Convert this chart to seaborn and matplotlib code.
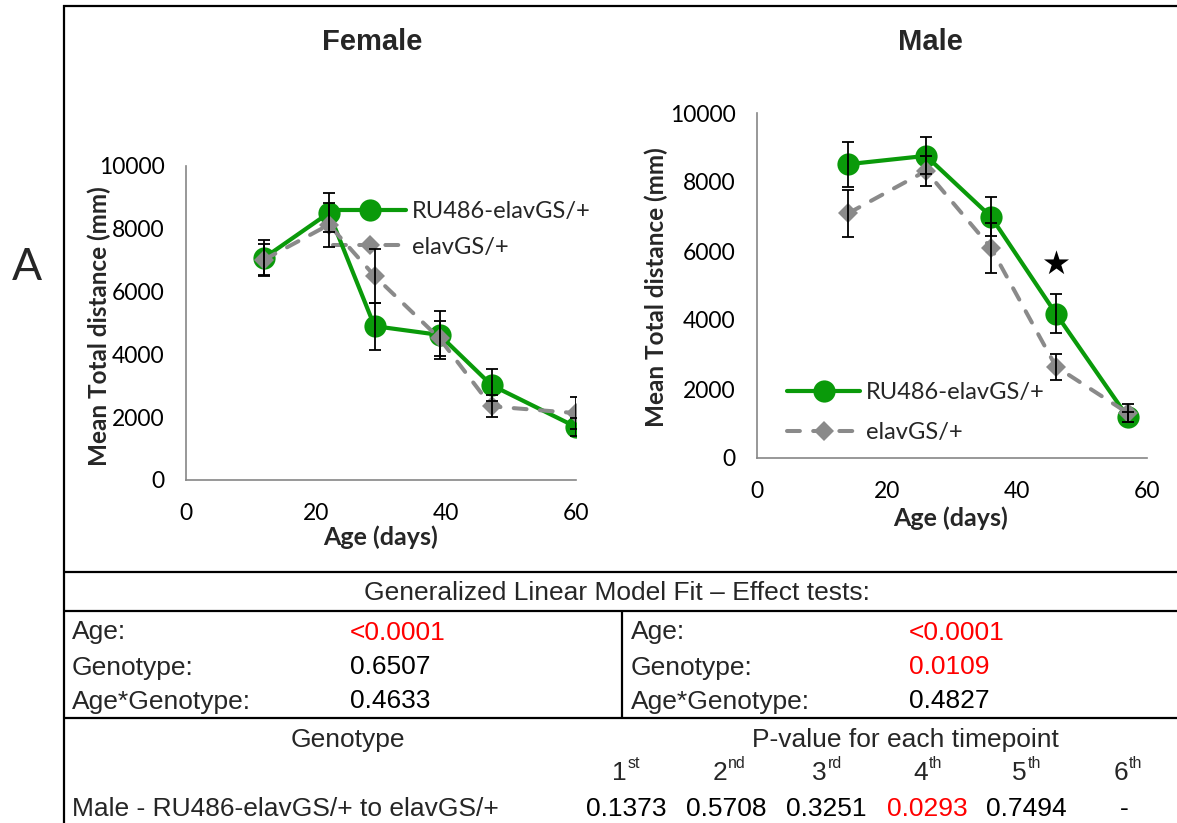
import matplotlib
matplotlib.use("Agg")
import matplotlib.pyplot as plt
import numpy as np
import pandas as pd
import seaborn as sns
from matplotlib.lines import Line2D

# ---------------- data ----------------
female_age = [12, 22, 29, 39, 47, 60]
female_ru486 = [7070, 8510, 4900, 4620, 3020, 1690]
female_ru486_sem = [580, 615, 750, 760, 520, 300]
female_ctrl = [7015, 8130, 6500, 4510, 2345, 2130]
female_ctrl_sem = [500, 700, 850, 560, 350, 500]

male_age = [14, 26, 36, 46, 57]
male_ru486 = [8516, 8758, 6993, 4180, 1193]
male_ru486_sem = [650, 534, 572, 560, 150]
male_ctrl = [7090, 8322, 6091, 2648, 1309]
male_ctrl_sem = [680, 436, 727, 380, 270]

series_labels = ["RU486-elavGS/+", "elavGS/+"]
panel_titles = ["Female", "Male"]
x_ticks = [0, 20, 40, 60]
y_ticks = [0, 2000, 4000, 6000, 8000, 10000]
star_age = [46]
star_value = [5655]

glm_title = "Generalized Linear Model Fit \u2013 Effect tests:"
glm_terms = ["Age:", "Genotype:", "Age*Genotype:"]
glm_female = ["<0.0001", "0.6507", "0.4633"]
glm_female_sig = [True, False, False]
glm_male = ["<0.0001", "0.0109", "0.4827"]
glm_male_sig = [True, True, False]
ordinal_nums = ["1", "2", "3", "4", "5", "6"]
ordinal_sups = ["st", "nd", "rd", "th", "th", "th"]
timepoint_pvalues = ["0.1373", "0.5708", "0.3251", "0.0293", "0.7494", "-"]
timepoint_sig = [False, False, False, True, False, False]
comparison_label = "Male - RU486-elavGS/+ to elavGS/+"

# ---------------- style ----------------
sns.set_style("white")
plt.rcParams["font.family"] = ["Lato", "DejaVu Sans"]

GREEN = "#0A9A0A"
GREY = "#8A8A8A"
AXC = "#868686"
RED = "#FF0000"
CHART_FONT = ["Lato", "DejaVu Sans"]
TABLE_FONT = ["Liberation Sans", "DejaVu Sans"]

W, H = 1177, 823
fig = plt.figure(figsize=(W / 100, H / 100), dpi=100)


def fx(px):
    return px / W


def fy(py):
    return 1 - py / H


ax_f = fig.add_axes([fx(186), fy(480), 390 / W, 314 / H])
ax_m = fig.add_axes([fx(757), fy(458), 390 / W, 345 / H])

DASH = (0, (3.2, 3.3))


def draw_panel(ax, age, ru, ru_err, ctrl, ctrl_err):
    df_ru = pd.DataFrame({"age": age, "dist": ru})
    df_ct = pd.DataFrame({"age": age, "dist": ctrl})
    sns.lineplot(data=df_ru, x="age", y="dist", ax=ax, color=GREEN, linewidth=3.0,
                 marker="o", markersize=16, markeredgecolor=GREEN,
                 markeredgewidth=0, zorder=3)
    sns.lineplot(data=df_ct, x="age", y="dist", ax=ax, color=GREY, linewidth=2.9,
                 linestyle=DASH, dash_capstyle="round", marker="D",
                 markersize=10.5, markeredgecolor=GREY, markeredgewidth=0,
                 zorder=4)
    ax.errorbar(age, ru, yerr=ru_err, fmt="none", ecolor="black", elinewidth=1.3,
                capsize=4.5, capthick=1.3, zorder=6)
    ax.errorbar(age, ctrl, yerr=ctrl_err, fmt="none", ecolor="black",
                elinewidth=1.3, capsize=4.5, capthick=1.3, zorder=6)
    ax.set_xlim(0, 60)
    ax.set_ylim(0, 10000)
    ax.set_xticks(x_ticks)
    ax.set_yticks(y_ticks)
    ax.set_xticklabels([str(t) for t in x_ticks])
    ax.set_yticklabels([str(t) for t in y_ticks])
    for s in ["top", "right"]:
        ax.spines[s].set_visible(False)
    for s in ["left", "bottom"]:
        ax.spines[s].set_color(AXC)
        ax.spines[s].set_linewidth(1.2)
    ax.tick_params(axis="both", which="major", direction="out", length=5.5,
                   width=1.2, color=AXC, labelsize=16.5, labelcolor="black")
    ax.tick_params(axis="x", pad=11)
    ax.tick_params(axis="y", pad=10)
    for lab in ax.get_xticklabels() + ax.get_yticklabels():
        lab.set_family(CHART_FONT)
    ax.set_xlabel("Age (days)", fontsize=18, fontweight="bold", family=CHART_FONT,
                  va="center")
    ax.set_ylabel("Mean Total distance (mm)", fontsize=17.5, fontweight="bold",
                  family=CHART_FONT, va="center")
    ax.patch.set_alpha(0)


def legend_handles():
    h1 = Line2D([], [], color=GREEN, linewidth=3.0, marker="o", markersize=16,
                markeredgewidth=0)
    h2 = Line2D([], [], color=GREY, linewidth=2.9, linestyle=DASH,
                dash_capstyle="round", marker="D", markersize=10.5,
                markeredgewidth=0)
    return [h1, h2]


draw_panel(ax_f, female_age, female_ru486, female_ru486_sem, female_ctrl,
           female_ctrl_sem)
draw_panel(ax_m, male_age, male_ru486, male_ru486_sem, male_ctrl, male_ctrl_sem)

sns.scatterplot(x=star_age, y=star_value, ax=ax_m, marker="*", s=360,
                color="black", edgecolor="black", linewidth=0, zorder=7)

# axis label positions
ax_f.xaxis.set_label_coords(0.50, -0.182)
ax_f.yaxis.set_label_coords(-0.222, 0.49)
ax_m.xaxis.set_label_coords(0.497, -0.174)
ax_m.yaxis.set_label_coords(-0.257, 0.496)

# legends
leg_kw = dict(frameon=False, handlelength=3.1, handletextpad=0.25,
              borderpad=0, borderaxespad=0, numpoints=1,
              prop={"family": CHART_FONT, "size": 17})
lf = ax_f.legend(legend_handles(), series_labels, loc="center left",
                 bbox_to_anchor=(0.377, 0.798), labelspacing=0.62, **leg_kw)
lm = ax_m.legend(legend_handles(), series_labels, loc="center left",
                 bbox_to_anchor=(0.077, 0.132), labelspacing=0.8, **leg_kw)
for lg in (lf, lm):
    lg.set_zorder(2)

# titles
fig.text(fx(372), fy(42), panel_titles[0], ha="center", va="center",
         fontsize=21, fontweight="bold", family=TABLE_FONT)
fig.text(fx(930), fy(42), panel_titles[1], ha="center", va="center",
         fontsize=21, fontweight="bold", family=TABLE_FONT)
fig.text(fx(27), fy(268), "A", ha="center", va="center", fontsize=32,
         fontweight="normal", family=CHART_FONT)

# ---------------- frame and table lines ----------------
def hline(y, x0, x1, lw=1.6):
    fig.add_artist(Line2D([fx(x0), fx(x1)], [fy(y), fy(y)], color="black",
                          linewidth=lw, transform=fig.transFigure,
                          solid_capstyle="butt"))


def vline(x, y0, y1, lw=1.6):
    fig.add_artist(Line2D([fx(x), fx(x)], [fy(y0), fy(y1)], color="black",
                          linewidth=lw, transform=fig.transFigure,
                          solid_capstyle="butt"))


hline(5.5, 63, 1177)
vline(64, 5, 823)
hline(572, 63, 1177)
hline(611, 63, 1177)
hline(718, 63, 1177)
vline(622, 611, 718)

TS = 19
fig.text(fx(617), fy(600), glm_title, ha="center", va="baseline", fontsize=TS,
         family=TABLE_FONT)
row_base = [639.5, 674.5, 708.5]
for i, term in enumerate(glm_terms):
    fig.text(fx(72), fy(row_base[i]), term, ha="left", va="baseline",
             fontsize=TS, family=TABLE_FONT)
    fig.text(fx(350), fy(row_base[i]), glm_female[i], ha="left", va="baseline",
             fontsize=TS, family=TABLE_FONT,
             color=RED if glm_female_sig[i] else "black")
    fig.text(fx(631), fy(row_base[i]), term, ha="left", va="baseline",
             fontsize=TS, family=TABLE_FONT)
    fig.text(fx(909), fy(row_base[i]), glm_male[i], ha="left", va="baseline",
             fontsize=TS, family=TABLE_FONT,
             color=RED if glm_male_sig[i] else "black")

fig.text(fx(348), fy(746.5), "Genotype", ha="center", va="baseline", fontsize=TS,
         family=TABLE_FONT)
fig.text(fx(905), fy(746.5), "P-value for each timepoint", ha="center",
         va="baseline", fontsize=TS, family=TABLE_FONT)

col_x = [626, 726, 826, 927, 1026, 1127]
for i, cx in enumerate(col_x):
    fig.text(fx(cx + 1), fy(780), ordinal_nums[i], ha="right", va="baseline",
             fontsize=TS, family=TABLE_FONT)
    fig.text(fx(cx + 1.5), fy(768), ordinal_sups[i], ha="left", va="baseline",
             fontsize=11.5, family=TABLE_FONT)
    fig.text(fx(cx if timepoint_pvalues[i] != "-" else cx - 3), fy(815.5),
             timepoint_pvalues[i], ha="center", va="baseline", fontsize=TS,
             family=TABLE_FONT, color=RED if timepoint_sig[i] else "black")
fig.text(fx(72), fy(815.5), comparison_label, ha="left", va="baseline",
         fontsize=TS, family=TABLE_FONT)

fig.savefig("out.png", dpi=100)
